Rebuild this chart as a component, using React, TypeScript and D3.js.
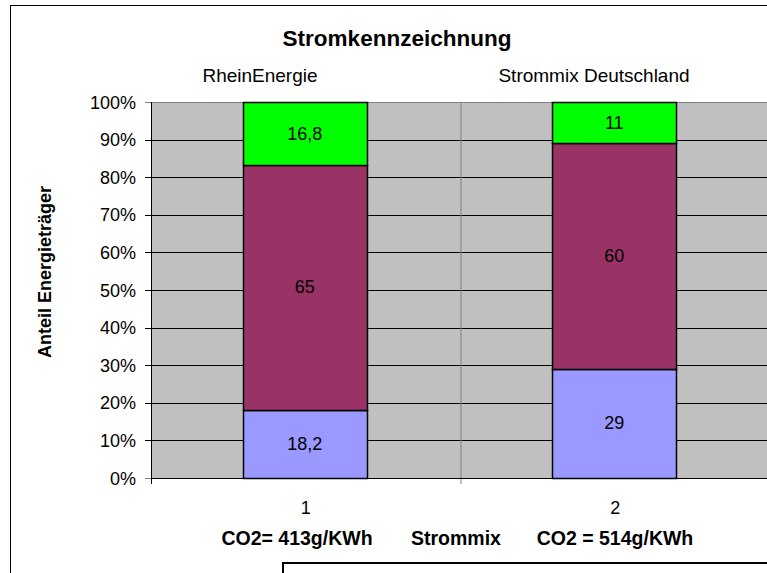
import React from 'react';
import { scaleBand, scaleLinear, stack, range } from 'd3';

// data
const categories = ['1', '2'];
const topLabels = ['RheinEnergie', 'Strommix Deutschland'];
const seriesNames = ['blue', 'maroon', 'green'];
const blueValues = [18.2, 29];
const maroonValues = [65, 60];
const greenValues = [16.8, 11];
const valueLabels = [['18,2', '29'], ['65', '60'], ['16,8', '11']];
const seriesColors = ['#9999FF', '#993366', '#00FF00'];
const yTicks = range(0, 101, 10);
const bottomTexts = [
    { text: 'CO2= 413g/KWh', x: 297 },
    { text: 'Strommix', x: 456 },
    { text: 'CO2 = 514g/KWh', x: 615 }
];

const W = 767;
const H = 573;
const plotLeft = 151;
const plotRight = 770;
const plotTop = 102;
const plotBottom = 478;
const font = '"Liberation Sans", Arial, sans-serif';

const App = () => {
    const x = scaleBand().domain(categories).range([plotLeft, plotRight]).padding(0);
    const y = scaleLinear().domain([0, 100]).range([plotBottom, plotTop]);
    const barW = x.bandwidth() / 2.5;

    const rows = categories.map((c, i) => ({
        cat: c,
        blue: blueValues[i],
        maroon: maroonValues[i],
        green: greenValues[i]
    }));
    const stacked = stack().keys(seriesNames)(rows);

    return (
        <div style={{ position: 'absolute', left: 0, top: 0 }}>
            <svg width={W} height={H} style={{ display: 'block', fontFamily: font }}>
                <rect x={0} y={0} width={W} height={H} fill="#fff" />
                {/* chart frame */}
                <line x1={10.5} y1={5} x2={10.5} y2={H} stroke="#000" />
                <line x1={10} y1={5.5} x2={W} y2={5.5} stroke="#000" />

                <text x={397} y={46} textAnchor="middle" fontSize={22.5} fontWeight="bold">
                    Stromkennzeichnung
                </text>
                {topLabels.map((t, i) => (
                    <text key={t} x={[260, 594][i]} y={82} textAnchor="middle" fontSize={19}>
                        {t}
                    </text>
                ))}

                {/* plot area */}
                <rect x={plotLeft} y={plotTop} width={plotRight - plotLeft}
                    height={plotBottom - plotTop} fill="#C0C0C0" />
                {yTicks.map((t) => (
                    <g key={t}>
                        <line x1={plotLeft - 6} x2={plotRight} y1={Math.round(y(t)) + 0.5}
                            y2={Math.round(y(t)) + 0.5}
                            stroke={t === 100 || t === 0 ? '#808080' : '#000'} />
                        <text x={136} y={y(t) + 6.5} textAnchor="end" fontSize={18}>{t}%</text>
                    </g>
                ))}
                <line x1={plotLeft + 0.5} x2={plotLeft + 0.5} y1={plotTop} y2={plotBottom}
                    stroke="#000" />
                <line x1={x('2') + 0.5} x2={x('2') + 0.5} y1={plotTop} y2={plotBottom + 6}
                    stroke="#808080" />
                <line x1={plotLeft + 0.5} x2={plotLeft + 0.5} y1={plotBottom} y2={plotBottom + 6}
                    stroke="#000" />
                <line x1={plotLeft} x2={plotRight} y1={plotBottom + 0.5} y2={plotBottom + 0.5}
                    stroke="#000" />

                {/* bars */}
                {stacked.map((s, si) => (
                    <g key={s.key}>
                        {s.map((d, i) => {
                            const cx = x(categories[i]) + x.bandwidth() / 2 - 1;
                            const y0 = y(d[0]);
                            const y1 = y(d[1]);
                            return (
                                <g key={i}>
                                    <rect x={Math.round(cx - barW / 2) + 0.5} y={Math.round(y1) + 0.5}
                                        width={Math.round(barW)} height={Math.round(y0) - Math.round(y1)}
                                        fill={seriesColors[si]} stroke="#000" strokeWidth={1.5} />
                                    <text x={cx} y={(y0 + y1) / 2 + 6} textAnchor="middle" fontSize={18}>
                                        {valueLabels[si][i]}
                                    </text>
                                </g>
                            );
                        })}
                    </g>
                ))}

                {categories.map((c) => (
                    <text key={c} x={x(c) + x.bandwidth() / 2} y={514} textAnchor="middle" fontSize={18}>
                        {c}
                    </text>
                ))}
                {bottomTexts.map((b) => (
                    <text key={b.text} x={b.x} y={545} textAnchor="middle" fontSize={19.5}
                        fontWeight="bold">
                        {b.text}
                    </text>
                ))}

                <text transform="translate(51,272) rotate(-90)" textAnchor="middle" fontSize={18}
                    fontWeight="bold">
                    Anteil Energieträger
                </text>

                {/* text box at the bottom */}
                <path d={`M283,${H} V563 H${W}`} fill="none" stroke="#000" strokeWidth={2} />
            </svg>
        </div>
    );
};

export default App;
